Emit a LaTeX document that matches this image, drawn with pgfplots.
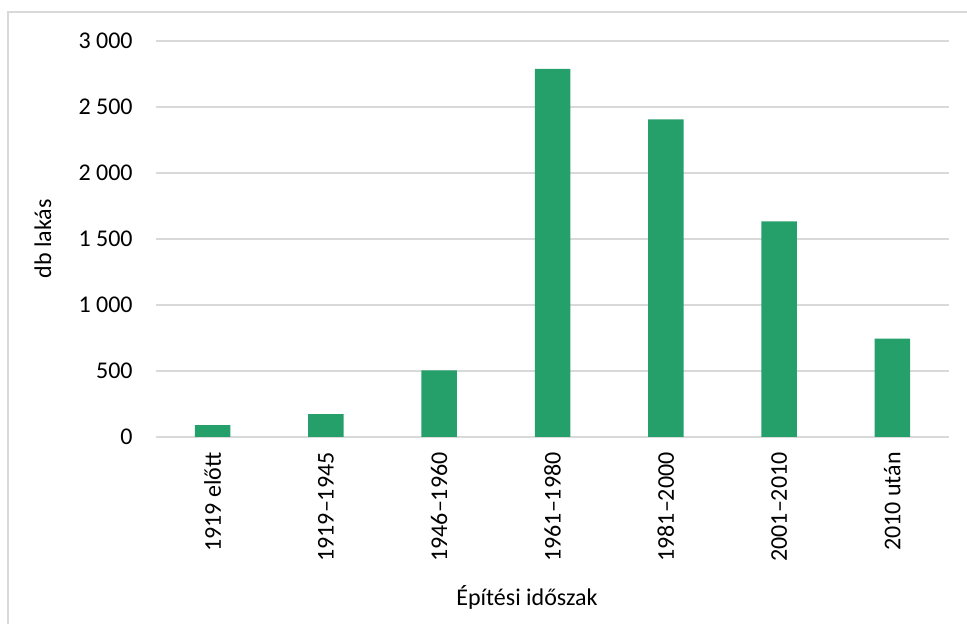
\documentclass[border=0pt]{standalone}
\usepackage{fontspec}
\setmainfont{Carlito}
\usepackage{pgfplots}
\pgfplotsset{compat=1.18}
\definecolor{gridgray}{RGB}{217,217,217}
\definecolor{barg}{RGB}{37,160,107}
\begin{document}
\fontsize{12}{14}\selectfont
\begin{tikzpicture}
\useasboundingbox (-78pt,-93.5pt) rectangle (405.5pt,218.5pt);
\draw[gridgray, line width=0.75pt] (-74pt,-100pt) -- (-74pt,212.5pt) -- (410pt,212.5pt);
\begin{axis}[
  at={(0pt,0pt)}, anchor=south west,
  scale only axis,
  width=396.5pt, height=198pt,
  ybar, bar width=17.75pt,
  xmin=-0.5, xmax=6.5,
  ymin=0, ymax=3000,
  xtick={0,1,2,3,4,5,6},
  xticklabels={1919 előtt,1919–1945,1946–1960,1961–1980,1981–2000,2001–2010,2010 után},
  ytick={0,500,1000,1500,2000,2500,3000},
  yticklabels={0,500,1\,000,1\,500,2\,000,2\,500,3\,000},
  yticklabels={0,500,1 000,1 500,2 000,2 500,3 000},
  axis line style={draw=none},
  major tick length=0pt,
  ymajorgrids,
  major grid style={gridgray, line width=0.75pt},
  y tick label style={inner sep=0pt, anchor=east, xshift=-11.5pt},
  x tick label style={inner sep=0pt, rotate=90, anchor=east, yshift=0pt, xshift=0pt},
  xticklabel shift=7.5pt,
  yticklabel shift=0pt,
  xlabel={Építési időszak},
  ylabel={db lakás},
  every axis x label/.style={at={(axis description cs:0,0)}, anchor=center, xshift=185.5pt, yshift=-80pt},
  every axis y label/.style={at={(axis description cs:0,0.5)}, xshift=-56.5pt, rotate=90, anchor=center},
  tick label style={font=\fontsize{12}{14}\selectfont},
  label style={font=\fontsize{12}{14}\selectfont},
]
\addplot[fill=barg, draw=none] coordinates {(0,89) (1,174) (2,505) (3,2788) (4,2407) (5,1634) (6,745)};
\end{axis}
\end{tikzpicture}
\end{document}
